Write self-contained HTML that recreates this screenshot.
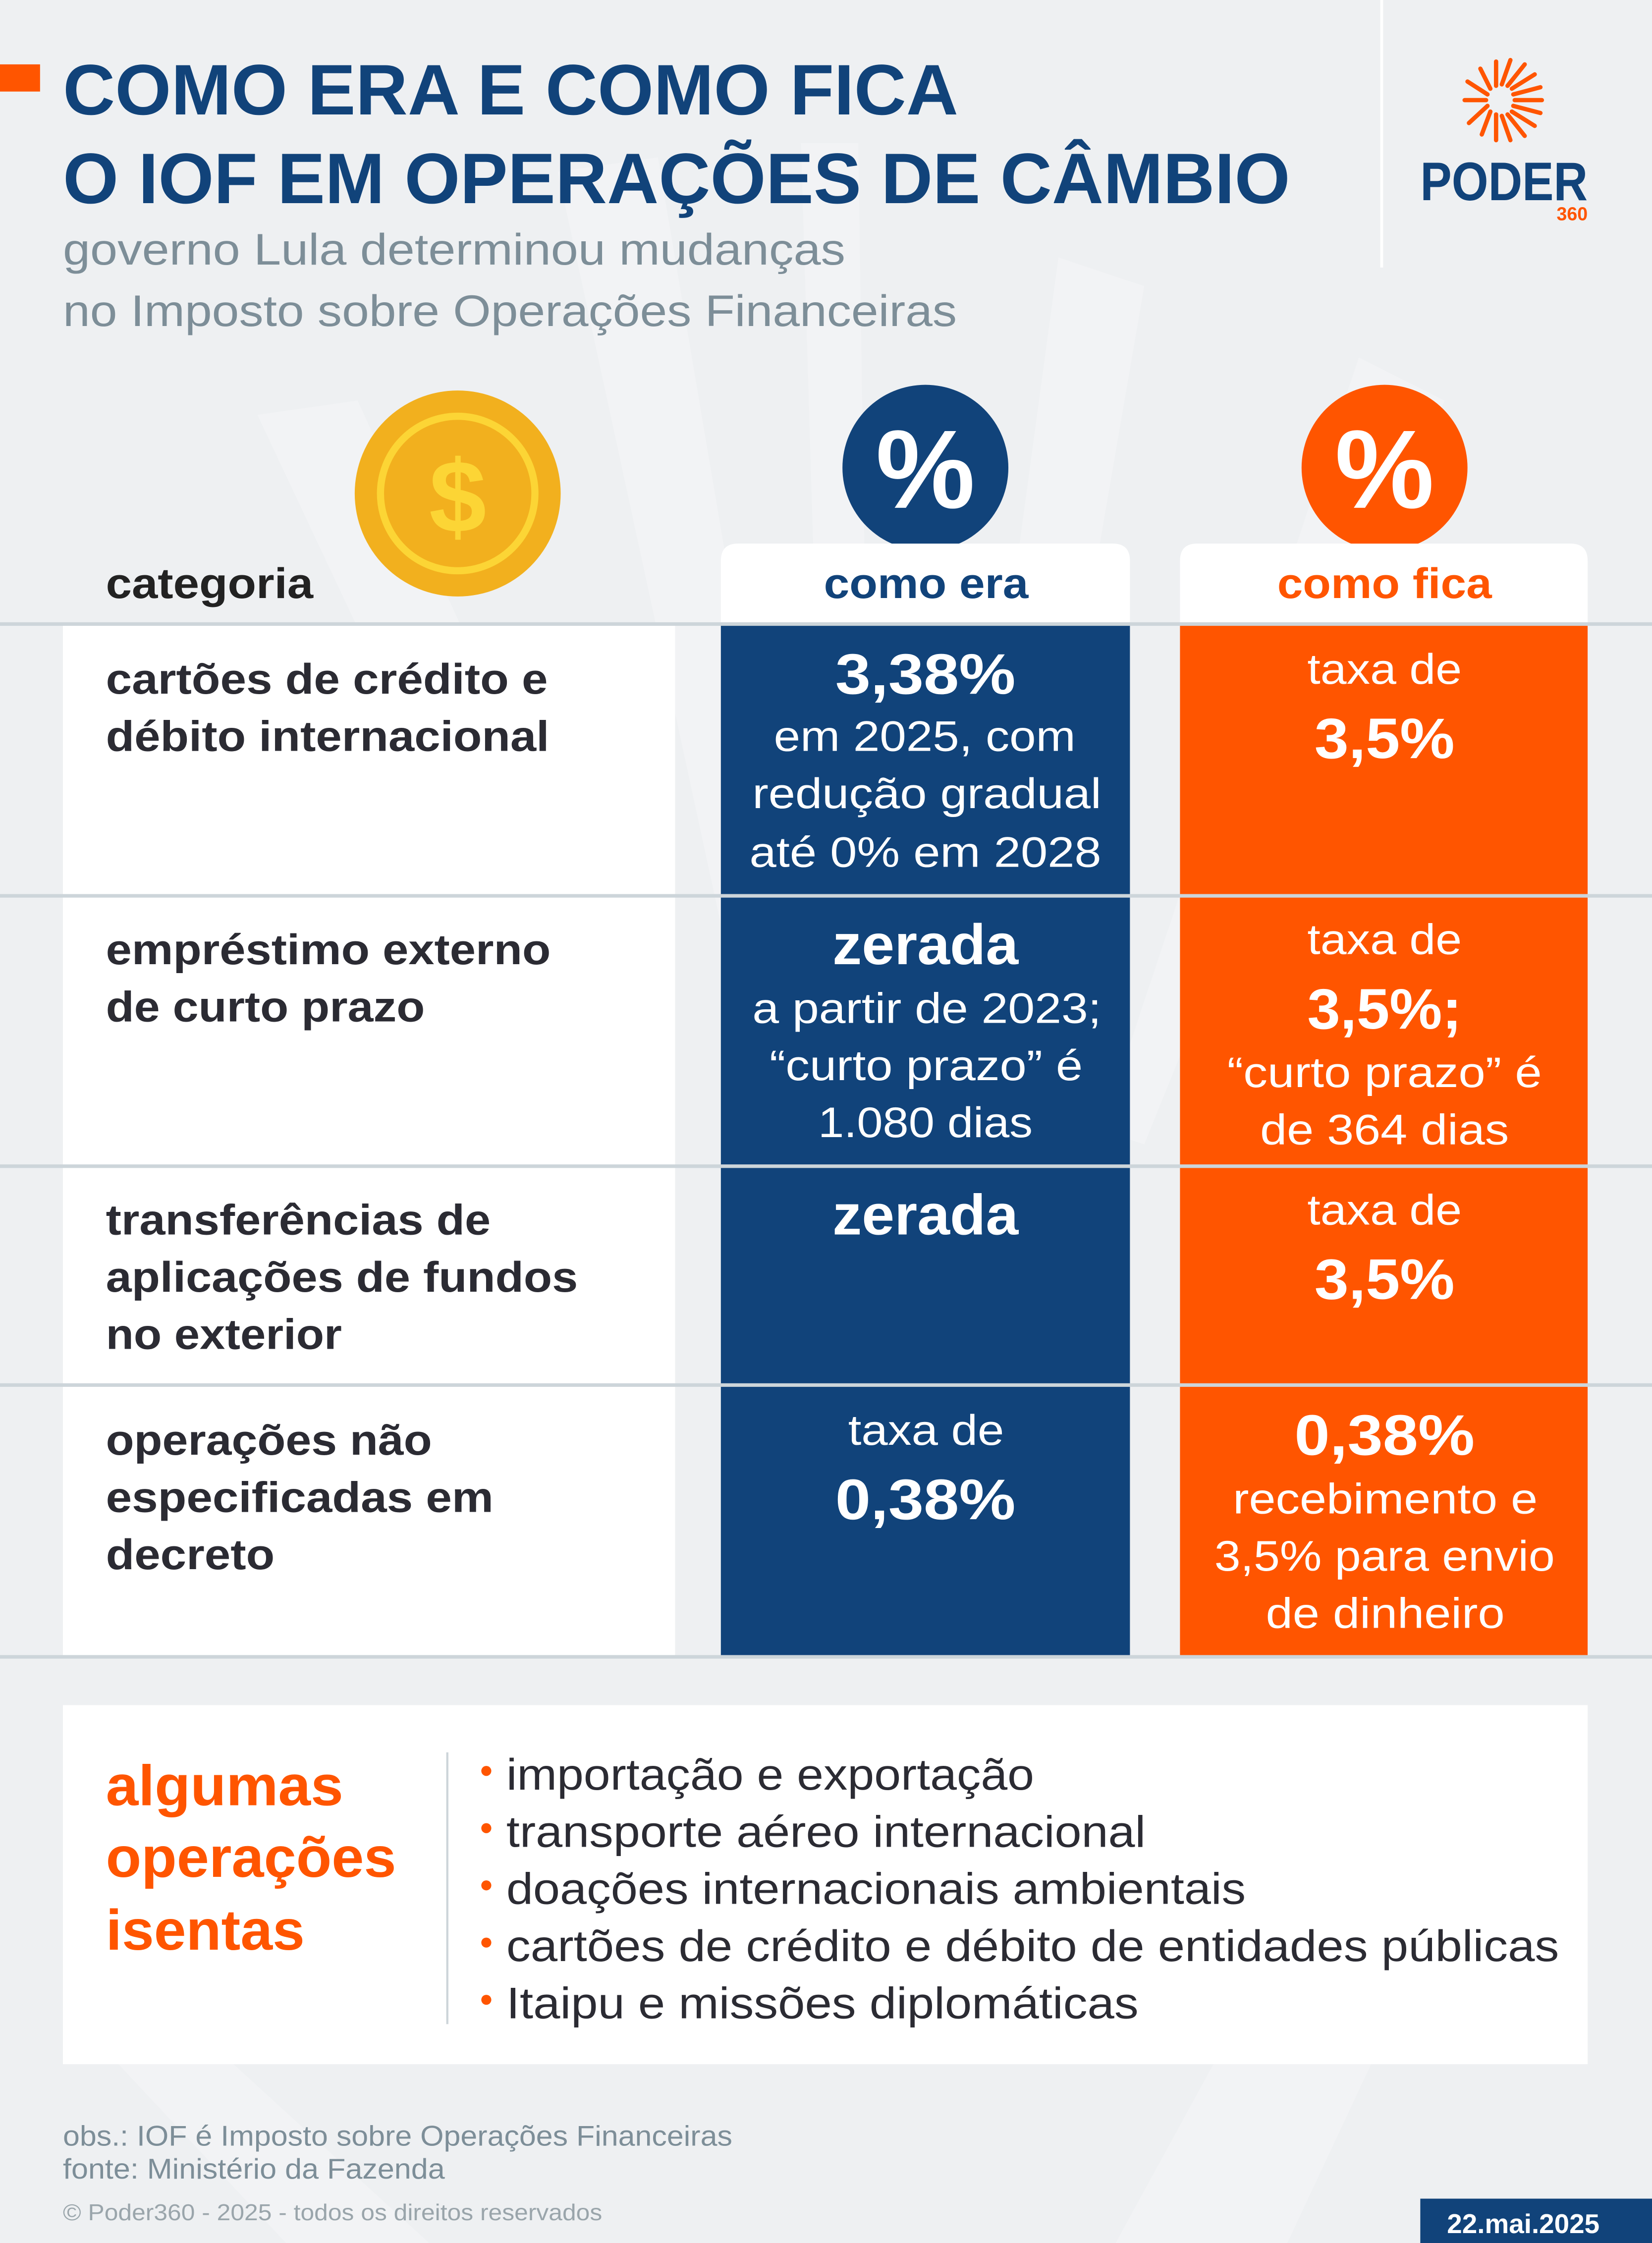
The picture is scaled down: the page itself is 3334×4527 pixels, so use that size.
<!DOCTYPE html>
<html><head><meta charset="utf-8">
<style>
html,body{margin:0;padding:0;background:#eef0f2;}
svg{display:block;}
text{font-family:"Liberation Sans",sans-serif;}
</style></head>
<body>
<svg xmlns="http://www.w3.org/2000/svg" width="3334" height="4527" viewBox="0 0 1155 1568" preserveAspectRatio="none">
<rect width="1155" height="1568" fill="#eef0f2"/>
<g fill="#f2f3f5">
<polygon points="180,290 250,280 470,760 420,800"/>
<polygon points="390,120 460,110 560,700 520,720"/>
<polygon points="560,100 600,100 610,760 580,760"/>
<polygon points="740,180 800,200 700,780 660,770"/>
<polygon points="950,250 1010,280 800,800 770,790"/>
<polygon points="80,1440 160,1440 300,1568 200,1568"/>
<polygon points="850,1440 960,1440 900,1568 780,1568"/>
</g>
<rect x="0" y="45" width="28" height="19" fill="#ff5500"/>
<text x="44" y="80" font-size="50" font-weight="bold" fill="#11437a" textLength="626" lengthAdjust="spacingAndGlyphs">COMO ERA E COMO FICA</text>
<text x="44" y="142" font-size="50" font-weight="bold" fill="#11437a" textLength="858" lengthAdjust="spacingAndGlyphs">O IOF EM OPERAÇÕES DE CÂMBIO</text>
<text x="44" y="185" font-size="31" fill="#7d8e98" textLength="547" lengthAdjust="spacingAndGlyphs">governo Lula determinou mudanças</text>
<text x="44" y="228" font-size="31" fill="#7d8e98" textLength="625" lengthAdjust="spacingAndGlyphs">no Imposto sobre Operações Financeiras</text>
<rect x="965" y="0" width="2" height="187" fill="#ffffff"/>
<g stroke="#ff5500" stroke-width="3" stroke-linecap="round">
<line x1="1059" y1="70" x2="1078" y2="70"/><line x1="1058" y1="74" x2="1077" y2="79"/>
<line x1="1057" y1="78" x2="1073" y2="88"/><line x1="1054" y1="80" x2="1066" y2="95"/>
<line x1="1050" y1="81" x2="1056" y2="98"/><line x1="1046" y1="80" x2="1046" y2="98"/>
<line x1="1042" y1="78" x2="1036" y2="94"/><line x1="1040" y1="74" x2="1027" y2="86"/>
<line x1="1058" y1="66" x2="1077" y2="61"/><line x1="1057" y1="62" x2="1073" y2="52"/>
<line x1="1054" y1="60" x2="1066" y2="45"/><line x1="1050" y1="59" x2="1056" y2="42"/>
<line x1="1046" y1="60" x2="1046" y2="43"/><line x1="1042" y1="62" x2="1035" y2="48"/>
<line x1="1040" y1="66" x2="1026" y2="57"/><line x1="1039" y1="70" x2="1024" y2="70"/>
</g>
<text x="993" y="140" font-size="38" font-weight="bold" fill="#11437a" textLength="117" lengthAdjust="spacingAndGlyphs">PODER</text>
<text x="1110" y="154" font-size="13" font-weight="bold" fill="#ff5500" text-anchor="end">360</text>
<circle cx="320" cy="345" r="72" fill="#f2b01e"/>
<circle cx="320" cy="345" r="54" fill="none" stroke="#fcd535" stroke-width="5"/>
<text x="320" y="372" font-size="72" font-weight="bold" fill="#fcd535" text-anchor="middle">$</text>
<circle cx="647" cy="327" r="58" fill="#11437a"/>
<text x="647" y="355" font-size="78" font-weight="bold" fill="#fff" text-anchor="middle">%</text>
<circle cx="968" cy="327" r="58" fill="#ff5500"/>
<text x="968" y="355" font-size="78" font-weight="bold" fill="#fff" text-anchor="middle">%</text>
<path d="M504,436 V392 Q504,380 516,380 H778 Q790,380 790,392 V436 Z" fill="#fff"/>
<path d="M825,436 V392 Q825,380 837,380 H1098 Q1110,380 1110,392 V436 Z" fill="#fff"/>
<text x="74" y="418" font-size="30" font-weight="bold" fill="#222" textLength="145" lengthAdjust="spacingAndGlyphs">categoria</text>
<text x="576" y="418" font-size="30" font-weight="bold" fill="#11437a" textLength="143" lengthAdjust="spacingAndGlyphs">como era</text>
<text x="893" y="418" font-size="30" font-weight="bold" fill="#ff5500" textLength="150" lengthAdjust="spacingAndGlyphs">como fica</text>
<rect x="44" y="437" width="428" height="721" fill="#fff"/>
<rect x="504" y="437" width="286" height="721" fill="#11437a"/>
<rect x="825" y="437" width="285" height="721" fill="#ff5500"/>
<g fill="#cdd5da">
<rect x="0" y="435" width="1155" height="2.5"/>
<rect x="0" y="625" width="1155" height="2.5"/>
<rect x="0" y="814" width="1155" height="2.5"/>
<rect x="0" y="967" width="1155" height="2.5"/>
<rect x="0" y="1157" width="1155" height="2.5"/>
</g>
<g font-size="30" font-weight="bold" fill="#2b2b33" lengthAdjust="spacingAndGlyphs">
<text x="74" y="485" textLength="309" lengthAdjust="spacingAndGlyphs">cartões de crédito e</text>
<text x="74" y="525" textLength="310" lengthAdjust="spacingAndGlyphs">débito internacional</text>
<text x="74" y="674" textLength="311" lengthAdjust="spacingAndGlyphs">empréstimo externo</text>
<text x="74" y="714" textLength="223" lengthAdjust="spacingAndGlyphs">de curto prazo</text>
<text x="74" y="863" textLength="269" lengthAdjust="spacingAndGlyphs">transferências de</text>
<text x="74" y="903" textLength="330" lengthAdjust="spacingAndGlyphs">aplicações de fundos</text>
<text x="74" y="943" textLength="165" lengthAdjust="spacingAndGlyphs">no exterior</text>
<text x="74" y="1017" textLength="228" lengthAdjust="spacingAndGlyphs">operações não</text>
<text x="74" y="1057" textLength="271" lengthAdjust="spacingAndGlyphs">especificadas em</text>
<text x="74" y="1097" textLength="118" lengthAdjust="spacingAndGlyphs">decreto</text>
</g>
<g fill="#fff" font-size="30">
<text x="584" y="485" font-size="40" font-weight="bold" textLength="126" lengthAdjust="spacingAndGlyphs">3,38%</text>
<text x="541" y="525" textLength="211" lengthAdjust="spacingAndGlyphs">em 2025, com</text>
<text x="526" y="565" textLength="244" lengthAdjust="spacingAndGlyphs">redução gradual</text>
<text x="524" y="606" textLength="246" lengthAdjust="spacingAndGlyphs">até 0% em 2028</text>
<text x="914" y="478" textLength="108" lengthAdjust="spacingAndGlyphs">taxa de</text>
<text x="919" y="530" font-size="40" font-weight="bold" textLength="98" lengthAdjust="spacingAndGlyphs">3,5%</text>
<text x="582" y="674" font-size="40" font-weight="bold" textLength="130" lengthAdjust="spacingAndGlyphs">zerada</text>
<text x="526" y="715" textLength="244" lengthAdjust="spacingAndGlyphs">a partir de 2023;</text>
<text x="538" y="755" textLength="219" lengthAdjust="spacingAndGlyphs">“curto prazo” é</text>
<text x="572" y="795" textLength="150" lengthAdjust="spacingAndGlyphs">1.080 dias</text>
<text x="914" y="667" textLength="108" lengthAdjust="spacingAndGlyphs">taxa de</text>
<text x="914" y="719" font-size="40" font-weight="bold" textLength="108" lengthAdjust="spacingAndGlyphs">3,5%;</text>
<text x="858" y="760" textLength="220" lengthAdjust="spacingAndGlyphs">“curto prazo” é</text>
<text x="881" y="800" textLength="174" lengthAdjust="spacingAndGlyphs">de 364 dias</text>
<text x="582" y="863" font-size="40" font-weight="bold" textLength="130" lengthAdjust="spacingAndGlyphs">zerada</text>
<text x="914" y="856" textLength="108" lengthAdjust="spacingAndGlyphs">taxa de</text>
<text x="919" y="908" font-size="40" font-weight="bold" textLength="98" lengthAdjust="spacingAndGlyphs">3,5%</text>
<text x="593" y="1010" textLength="109" lengthAdjust="spacingAndGlyphs">taxa de</text>
<text x="584" y="1062" font-size="40" font-weight="bold" textLength="126" lengthAdjust="spacingAndGlyphs">0,38%</text>
<text x="905" y="1017" font-size="40" font-weight="bold" textLength="126" lengthAdjust="spacingAndGlyphs">0,38%</text>
<text x="862" y="1058" textLength="213" lengthAdjust="spacingAndGlyphs">recebimento e</text>
<text x="849" y="1098" textLength="238" lengthAdjust="spacingAndGlyphs">3,5% para envio</text>
<text x="885" y="1138" textLength="167" lengthAdjust="spacingAndGlyphs">de dinheiro</text>
</g>
<rect x="44" y="1192" width="1066" height="251" fill="#fff"/>
<g font-size="40" font-weight="bold" fill="#ff5500">
<text x="74" y="1262" textLength="166" lengthAdjust="spacingAndGlyphs">algumas</text>
<text x="74" y="1312" textLength="203" lengthAdjust="spacingAndGlyphs">operações</text>
<text x="74" y="1363" textLength="139" lengthAdjust="spacingAndGlyphs">isentas</text>
</g>
<rect x="312" y="1225" width="1.5" height="190" fill="#cdd5da"/>
<g fill="#ff5500">
<circle cx="340" cy="1238" r="3.5"/><circle cx="340" cy="1278" r="3.5"/><circle cx="340" cy="1318" r="3.5"/><circle cx="340" cy="1358" r="3.5"/><circle cx="340" cy="1398" r="3.5"/>
</g>
<g font-size="31" fill="#2b2b33">
<text x="354" y="1251" textLength="369" lengthAdjust="spacingAndGlyphs">importação e exportação</text>
<text x="354" y="1291" textLength="447" lengthAdjust="spacingAndGlyphs">transporte aéreo internacional</text>
<text x="354" y="1331" textLength="517" lengthAdjust="spacingAndGlyphs">doações internacionais ambientais</text>
<text x="354" y="1371" textLength="736" lengthAdjust="spacingAndGlyphs">cartões de crédito e débito de entidades públicas</text>
<text x="354" y="1411" textLength="442" lengthAdjust="spacingAndGlyphs">Itaipu e missões diplomáticas</text>
</g>
<text x="44" y="1500" font-size="20" fill="#7d8e98" textLength="468" lengthAdjust="spacingAndGlyphs">obs.: IOF é Imposto sobre Operações Financeiras</text>
<text x="44" y="1523" font-size="20" fill="#7d8e98" textLength="267" lengthAdjust="spacingAndGlyphs">fonte: Ministério da Fazenda</text>
<text x="44" y="1552" font-size="16" fill="#9aa5ab" textLength="377" lengthAdjust="spacingAndGlyphs">© Poder360 - 2025 - todos os direitos reservados</text>
<rect x="993" y="1537" width="162" height="31" fill="#11437a"/>
<text x="1065" y="1561" font-size="19" font-weight="bold" fill="#fff" text-anchor="middle">22.mai.2025</text>
</svg>
</body></html>
